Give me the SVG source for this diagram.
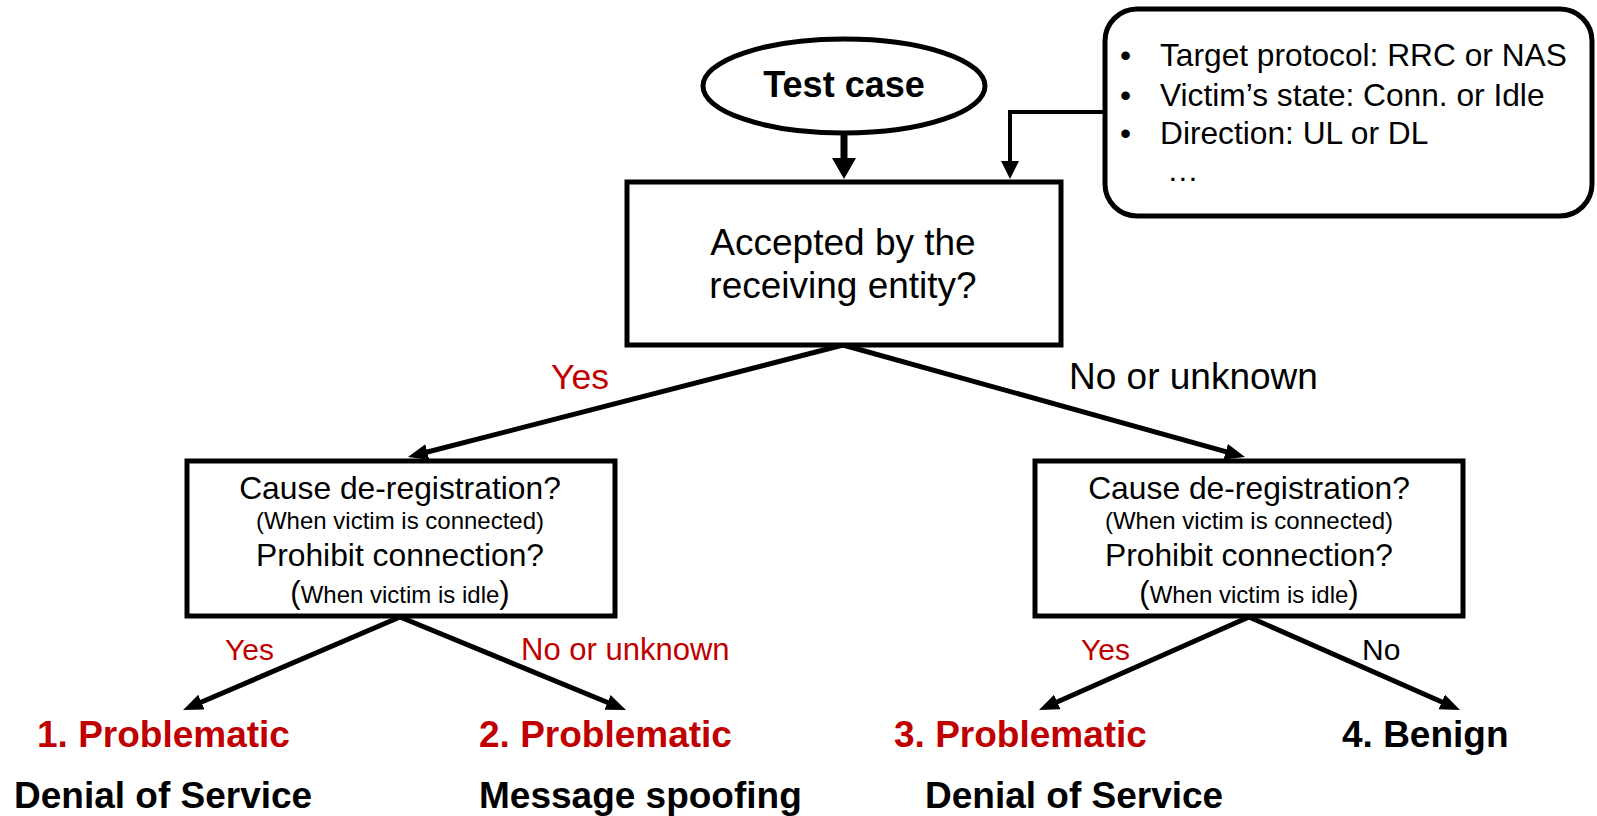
<svg xmlns="http://www.w3.org/2000/svg" width="1597" height="816" viewBox="0 0 1597 816">
<style>
text{font-family:"Liberation Sans",Arial,sans-serif;fill:#000}
.b{font-weight:bold}
.red{fill:#C00000}
.box{fill:#fff;stroke:#000;stroke-width:5}
.ln{stroke:#000;stroke-width:5;fill:none}
</style>
<defs>
<marker id="ah" markerUnits="userSpaceOnUse" markerWidth="22" markerHeight="18" refX="12" refY="8" orient="auto"><path d="M0,0 L20,8 L0,16 z" fill="#000"/></marker>
</defs>
<rect width="1597" height="816" fill="#fff"/>
<g id="connectors">
<line class="ln" x1="844" y1="133" x2="844" y2="162" style="stroke-width:7"/>
<polygon points="832,158 856,158 844,179" fill="#000"/>
<polyline class="ln" points="1105,112 1010,112 1010,165" style="stroke-width:4"/>
<polygon points="1001,161 1019,161 1010,179" fill="#000"/>
<line class="ln" x1="843" y1="345" x2="415.7" y2="455" marker-end="url(#ah)"/>
<line class="ln" x1="843" y1="345" x2="1237.3" y2="454.9" marker-end="url(#ah)"/>
<line class="ln" x1="400" y1="617" x2="190.4" y2="706.8" marker-end="url(#ah)"/>
<line class="ln" x1="400" y1="617" x2="618.6" y2="707" marker-end="url(#ah)"/>
<line class="ln" x1="1249" y1="617" x2="1046.3" y2="706.8" marker-end="url(#ah)"/>
<line class="ln" x1="1249" y1="617" x2="1452.7" y2="706.8" marker-end="url(#ah)"/>
<text x="551" y="389" class="red" font-size="35.5">Yes</text>
<text x="1069" y="389" font-size="37">No or unknown</text>
<text x="225" y="660" class="red" font-size="30">Yes</text>
<text x="521" y="660" class="red" font-size="31">No or unknown</text>
<text x="1081" y="660" class="red" font-size="30">Yes</text>
<text x="1362" y="660" font-size="30">No</text>
</g>
<g id="test-case">
<ellipse cx="844" cy="86" rx="141" ry="47" class="box"/>
<text x="844" y="97" class="b" font-size="36" text-anchor="middle">Test case</text>
</g>
<g id="info">
<rect x="1105" y="9" width="487" height="207" rx="32" class="box"/>
<g font-size="31.7">
<text x="1120" y="66">•</text><text x="1160" y="66">Target protocol: RRC or NAS</text>
<text x="1120" y="106">•</text><text x="1160" y="106">Victim’s state: Conn. or Idle</text>
<text x="1120" y="144">•</text><text x="1160" y="144">Direction: UL or DL</text>
<text x="1167" y="181">…</text>
</g>
</g>
<g id="accepted">
<rect x="627" y="182" width="434" height="163" class="box"/>
<text x="843" y="255" font-size="37" text-anchor="middle">Accepted by the</text>
<text x="843" y="298" font-size="37" text-anchor="middle">receiving entity?</text>
</g>
<g id="check-left">
<rect x="187" y="461" width="428" height="155" class="box"/>
<g text-anchor="middle">
<text x="400" y="499" font-size="31.8">Cause de-registration?</text>
<text x="400" y="529" font-size="24">(When victim is connected)</text>
<text x="400" y="566" font-size="31.8">Prohibit connection?</text>
<text x="400" y="603" font-size="24"><tspan font-size="31">(</tspan>When victim is idle<tspan font-size="31">)</tspan></text>
</g>
</g>
<g id="check-right">
<rect x="1035" y="461" width="428" height="155" class="box"/>
<g text-anchor="middle">
<text x="1249" y="499" font-size="31.8">Cause de-registration?</text>
<text x="1249" y="529" font-size="24">(When victim is connected)</text>
<text x="1249" y="566" font-size="31.8">Prohibit connection?</text>
<text x="1249" y="603" font-size="24"><tspan font-size="31">(</tspan>When victim is idle<tspan font-size="31">)</tspan></text>
</g>
</g>
<g id="result-1">
<text x="37" y="747" class="b red" font-size="37">1. Problematic</text>
<text x="14" y="808" class="b" font-size="37">Denial of Service</text>
</g>
<g id="result-2">
<text x="479" y="747" class="b red" font-size="37">2. Problematic</text>
<text x="479" y="808" class="b" font-size="37">Message spoofing</text>
</g>
<g id="result-3">
<text x="894" y="747" class="b red" font-size="37">3. Problematic</text>
<text x="925" y="808" class="b" font-size="37">Denial of Service</text>
</g>
<g id="result-4">
<text x="1342" y="747" class="b" font-size="37">4. Benign</text>
</g>
</svg>
